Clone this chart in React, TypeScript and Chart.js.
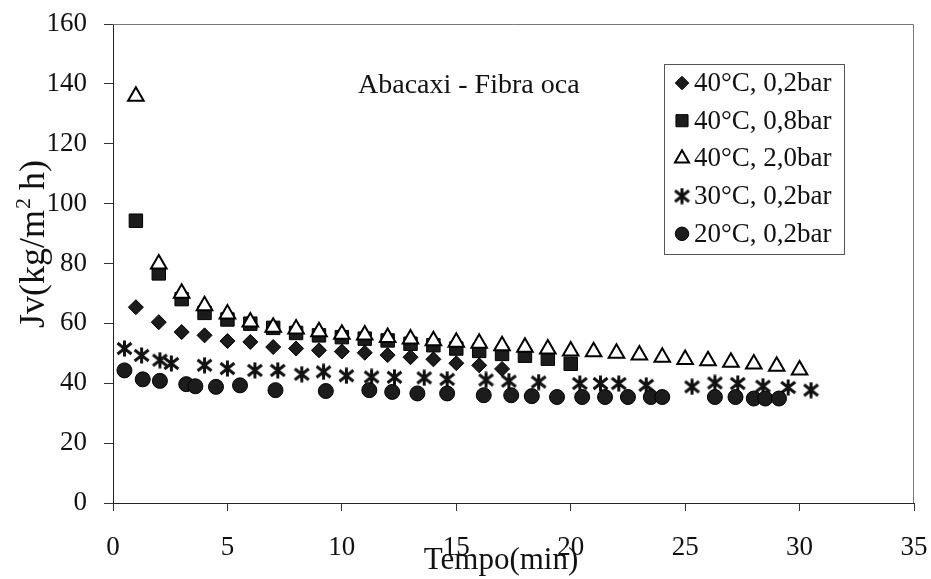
import React, { useEffect, useRef } from 'react';
import { Chart, registerables } from 'chart.js';
import { drawPoint } from 'chart.js/helpers';

Chart.register(...registerables);

const SERIF = '"Liberation Serif", "Times New Roman", serif';

// Series labels (legend order)
const seriesLabels = ['40°C, 0,2bar', '40°C, 0,8bar', '40°C, 2,0bar', '30°C, 0,2bar', '20°C, 0,2bar'];

// 40°C, 0,2bar
const t40a = [1, 2, 3, 4, 5, 6, 7, 8, 9, 10, 11, 12, 13, 14, 15, 16, 17];
const jv40a = [65.4, 60.4, 57.1, 56.0, 54.1, 53.8, 52.1, 51.6, 51.0, 50.6, 50.2, 49.4, 48.7, 48.0, 46.7, 46.0, 44.8];

// 40°C, 0,8bar
const t40b = [1, 2, 3, 4, 5, 6, 7, 8, 9, 10, 11, 12, 13, 14, 15, 16, 17, 18, 19, 20];
const jv40b = [94.3, 76.7, 68.1, 63.5, 61.3, 59.9, 58.5, 56.8, 56.0, 55.4, 54.9, 54.3, 53.2, 52.7, 51.6, 50.8, 49.8, 49.2, 48.2, 46.5];

// 40°C, 2,0bar
const t40c = [1, 2, 3, 4, 5, 6, 7, 8, 9, 10, 11, 12, 13, 14, 15, 16, 17, 18, 19, 20, 21, 22, 23, 24, 25, 26, 27, 28, 29, 30];
const jv40c = [135.9, 79.8, 70.1, 65.9, 63.1, 60.5, 58.7, 58.1, 57.2, 56.4, 56.1, 55.3, 54.8, 54.2, 53.7, 53.4, 52.5, 52.0, 51.4, 50.8, 50.5, 50.0, 49.4, 48.7, 47.9, 47.5, 47.0, 46.4, 45.7, 44.4];

// 30°C, 0,2bar
const t30 = [0.5, 1.25, 2.05, 2.55, 4.0, 5.0, 6.2, 7.2, 8.25, 9.2, 10.2, 11.3, 12.3, 13.6, 14.6, 16.3, 17.3, 18.6, 20.4, 21.3, 22.1, 23.3, 25.3, 26.3, 27.3, 28.4, 29.5, 30.5];
const jv30 = [51.6, 49.3, 47.7, 46.6, 46.0, 44.9, 44.3, 44.3, 43.0, 43.8, 42.5, 42.1, 42.0, 41.8, 41.3, 41.1, 40.7, 40.4, 39.9, 39.9, 39.9, 39.3, 38.8, 40.1, 39.9, 39.0, 38.6, 37.7];

// 20°C, 0,2bar
const t20 = [0.5, 1.3, 2.05, 3.2, 3.6, 4.5, 5.55, 7.1, 9.3, 11.2, 12.2, 13.3, 14.6, 16.2, 17.4, 18.3, 19.4, 20.5, 21.5, 22.5, 23.5, 24.0, 26.3, 27.2, 28.0, 28.5, 29.1];
const jv20 = [44.3, 41.3, 40.8, 39.7, 39.0, 38.8, 39.3, 37.7, 37.4, 37.7, 37.1, 36.6, 36.6, 36.0, 36.0, 35.7, 35.4, 35.4, 35.4, 35.4, 35.4, 35.4, 35.4, 35.4, 34.9, 34.9, 34.9];

// Axis ranges
const xMin = 0, xMax = 35, xStep = 5;
const yMin = 0, yMax = 160, yStep = 20;

const chartTitle = 'Abacaxi - Fibra oca';
const xTitle = 'Tempo(min)';
const yTitleMain = 'Jv(kg/m';
const yTitleSup = '2';
const yTitleEnd = ' h)';

const toPoints = (xs: number[], ys: number[]) => xs.map((x, i) => ({ x, y: ys[i] }));

function makeAsterisk(size: number, lw: number): HTMLCanvasElement {
  const c = document.createElement('canvas');
  c.width = size;
  c.height = size;
  const g = c.getContext('2d')!;
  g.strokeStyle = '#111';
  g.lineWidth = lw;
  g.beginPath();
  g.moveTo(1.5, 3);
  g.lineTo(size - 1.5, size - 3);
  g.moveTo(size - 1.5, 3);
  g.lineTo(1.5, size - 3);
  g.moveTo(size / 2, 0.5);
  g.lineTo(size / 2, size - 0.5);
  g.stroke();
  return c;
}

const decorPlugin = {
  id: 'decor',
  afterDraw(chart: any) {
    const { ctx, chartArea: a } = chart;
    ctx.save();

    // top and right frame lines
    ctx.strokeStyle = '#777';
    ctx.lineWidth = 1;
    ctx.beginPath();
    ctx.moveTo(a.left, a.top + 0.5);
    ctx.lineTo(a.right - 0.5, a.top + 0.5);
    ctx.lineTo(a.right - 0.5, a.bottom);
    ctx.stroke();

    // chart title inside the plot
    ctx.fillStyle = '#111';
    ctx.font = `28px ${SERIF}`;
    ctx.textAlign = 'left';
    ctx.textBaseline = 'middle';
    ctx.fillText(chartTitle, 358, 86);

    // legend box
    const bx = 664, by = 64, bw = 180, bh = 190;
    ctx.fillStyle = '#fff';
    ctx.fillRect(bx, by, bw, bh);
    ctx.strokeStyle = '#555';
    ctx.strokeRect(bx + 0.5, by + 0.5, bw, bh);
    ctx.font = `27px ${SERIF}`;
    chart.data.datasets.forEach((ds: any, i: number) => {
      const cy = 83 + i * 37.7;
      ctx.save();
      ctx.fillStyle = ds.pointBackgroundColor;
      ctx.strokeStyle = ds.pointBorderColor;
      ctx.lineWidth = ds.pointBorderWidth;
      drawPoint(ctx, { pointStyle: ds.pointStyle, radius: ds.pointRadius * 0.9, borderWidth: ds.pointBorderWidth, rotation: 0 }, 682, cy);
      ctx.restore();
      ctx.fillStyle = '#111';
      ctx.textAlign = 'left';
      ctx.textBaseline = 'middle';
      ctx.fillText(ds.label, 694, cy + 1);
    });

    // x axis title
    ctx.font = `31px ${SERIF}`;
    ctx.fillStyle = '#111';
    ctx.textAlign = 'center';
    ctx.textBaseline = 'middle';
    ctx.fillText(xTitle, 501, 561);

    // y axis title with superscript
    ctx.save();
    ctx.translate(35, 244);
    ctx.rotate(-Math.PI / 2);
    const big = `36px ${SERIF}`;
    const small = `22px ${SERIF}`;
    ctx.font = big;
    const w1 = ctx.measureText(yTitleMain).width;
    const w3 = ctx.measureText(yTitleEnd).width;
    ctx.font = small;
    const w2 = ctx.measureText(yTitleSup).width;
    const total = w1 + w2 + w3;
    let x0 = -total / 2;
    ctx.textAlign = 'left';
    ctx.textBaseline = 'middle';
    ctx.font = big;
    ctx.fillText(yTitleMain, x0, 0);
    x0 += w1;
    ctx.font = small;
    ctx.fillText(yTitleSup, x0 + 1, -11);
    x0 += w2;
    ctx.font = big;
    ctx.fillText(yTitleEnd, x0, 0);
    ctx.restore();

    ctx.restore();
  },
};

export default function App() {
  const ref = useRef<HTMLCanvasElement>(null);

  useEffect(() => {
    const canvas = ref.current;
    if (!canvas) return;
    const star = makeAsterisk(17, 3);
    const tickFont = { family: SERIF, size: 27 };

    const chart = new Chart(canvas, {
      type: 'scatter',
      data: {
        datasets: [
          {
            label: seriesLabels[0],
            data: toPoints(t40a, jv40a),
            pointStyle: 'rectRot',
            pointRadius: 7.5,
            pointBackgroundColor: '#1c1c1c',
            pointBorderColor: '#000',
            pointBorderWidth: 1,
            order: 5,
          },
          {
            label: seriesLabels[1],
            data: toPoints(t40b, jv40b),
            pointStyle: 'rect',
            pointRadius: 9.5,
            pointBackgroundColor: '#1c1c1c',
            pointBorderColor: '#000',
            pointBorderWidth: 1,
            order: 4,
          },
          {
            label: seriesLabels[2],
            data: toPoints(t40c, jv40c),
            pointStyle: 'triangle',
            pointRadius: 9,
            pointBackgroundColor: '#fff',
            pointBorderColor: '#000',
            pointBorderWidth: 2,
            order: 3,
          },
          {
            label: seriesLabels[3],
            data: toPoints(t30, jv30),
            pointStyle: star,
            pointRadius: 8,
            pointBackgroundColor: '#111',
            pointBorderColor: '#111',
            pointBorderWidth: 1,
            order: 2,
          },
          {
            label: seriesLabels[4],
            data: toPoints(t20, jv20),
            pointStyle: 'circle',
            pointRadius: 7.5,
            pointBackgroundColor: '#1c1c1c',
            pointBorderColor: '#000',
            pointBorderWidth: 1,
            order: 1,
          },
        ] as any,
      },
      options: {
        responsive: false,
        animation: false,
        devicePixelRatio: 1,
        layout: { padding: 0 },
        plugins: { legend: { display: false }, tooltip: { enabled: false } },
        scales: {
          x: {
            type: 'linear',
            min: xMin,
            max: xMax,
            ticks: { stepSize: xStep, font: tickFont, color: '#111', padding: 21, maxRotation: 0 },
            grid: { drawOnChartArea: false, drawTicks: true, tickLength: 8, color: '#333' },
            border: { display: true, color: '#222', width: 1 },
            afterFit: (s: any) => {
              s.height = 76;
              s.paddingLeft = 0;
              s.paddingRight = 17;
            },
          },
          y: {
            type: 'linear',
            min: yMin,
            max: yMax,
            ticks: { stepSize: yStep, font: tickFont, color: '#111', padding: 17 },
            grid: { drawOnChartArea: false, drawTicks: true, tickLength: 9, color: '#333' },
            border: { display: true, color: '#222', width: 1 },
            afterFit: (s: any) => {
              s.width = 113;
              s.paddingTop = 24;
              s.paddingBottom = 0;
            },
          },
        },
      } as any,
      plugins: [decorPlugin],
    });

    return () => chart.destroy();
  }, []);

  return (
    <canvas
      ref={ref}
      width={931}
      height={579}
      style={{ position: 'absolute', left: 0, top: 0, display: 'block', background: '#fff' }}
    />
  );
}
